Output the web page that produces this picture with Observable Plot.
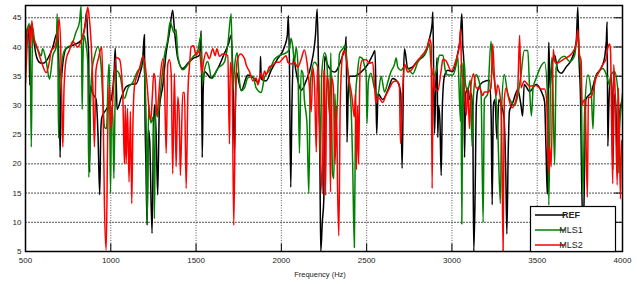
<!DOCTYPE html>
<html>
<head>
<meta charset="utf-8">
<script src="https://cdn.jsdelivr.net/npm/d3@7"></script>
<script src="https://cdn.jsdelivr.net/npm/@observablehq/plot@0.6"></script>
<style>
html,body{margin:0;padding:0;background:#fff;}
#chart svg{display:block;}
</style>
</head>
<body>
<div id="chart"></div>
<script>
const xTicks = [500,1000,1500,2000,2500,3000,3500,4000];
const yTicks = [5,10,15,20,25,30,35,40,45];
const seriesNames = ["REF","MLS1","MLS2"];
const seriesColors = ["#000000","#008000","#ff0000"];

const refData = [[500,36],[505,42.5],[515,43],[521,41],[525,33.5],[530,43],[537,44],[545,42],[563,38.5],[585,37.3],[601,37.2],[631,38],[660,40],[680,42.1],[690,42.5],[697,35],[703,21.1],[708,33],[713,35.4],[738,39.7],[787,40.4],[826,41.1],[850,44],[858,46],[864,42],[870,39],[876,18.5],[882,33.4],[895,32],[914,31],[925,25],[935,14.7],[942,26],[948,28],[973,29.3],[1002,31],[1020,36],[1026,39.8],[1032,34],[1037,29.3],[1061,31.3],[1090,33.2],[1120,33.6],[1149,33.7],[1168,35.2],[1186,37.5],[1197,42.1],[1201,27.5],[1206,20],[1213,9.5],[1220,26],[1228,24],[1242,8.1],[1250,25],[1256,30.1],[1266,25],[1275,14.7],[1285,29.5],[1305,33.4],[1325,39.1],[1344,42.5],[1363,46.3],[1373,43],[1393,38],[1422,36.3],[1451,37.2],[1481,38],[1520,38.6],[1530,42.8],[1536,21.1],[1542,33],[1549,35.8],[1588,34.7],[1627,36.3],[1666,38.9],[1690,40.5],[1706,42],[1715,36],[1725,21.8],[1735,35.8],[1765,32.6],[1803,35.2],[1833,34.8],[1862,34],[1875,35],[1878,38.4],[1882,34.5],[1911,34.2],[1940,36],[1979,38],[2018,40],[2035,42],[2041,45.4],[2047,38],[2055,16],[2062,30],[2071,38.4],[2085,36],[2116,32.6],[2145,34.2],[2175,37],[2200,42],[2210,46.5],[2218,36],[2226,20],[2231,5],[2240,10],[2249,14],[2253,38.4],[2270,37],[2311,35.7],[2360,38.6],[2375,40],[2380,41.8],[2385,23.7],[2392,32],[2400,35],[2428,35],[2467,35.7],[2506,37],[2535,38.6],[2549,39.4],[2554,33],[2559,25.2],[2567,32],[2594,31],[2624,32.6],[2653,34.6],[2682,34],[2700,32],[2708,19.2],[2716,35],[2722,39.7],[2741,36.3],[2770,36.6],[2800,37.7],[2839,38.6],[2868,41.4],[2884,44],[2888,46],[2893,35],[2898,25.2],[2905,33],[2913,38.2],[2917,24.5],[2922,30],[2930,27],[2937,18],[2944,30],[2956,35],[2976,36],[3005,35.8],[3034,38.9],[3050,42],[3058,45.7],[3064,40],[3069,37.9],[3074,21.1],[3080,32],[3095,33],[3103,31],[3115,32],[3122,28],[3128,5],[3136,15],[3143,30],[3151,32.6],[3181,34],[3220,34.3],[3230,28],[3236,13],[3243,30],[3252,31],[3264,24.2],[3275,31],[3290,30],[3305,28],[3316,18],[3322,8],[3330,22],[3337,29],[3357,30.5],[3386,32.7],[3405,30],[3414,28.2],[3424,33.6],[3455,32.4],[3494,33.6],[3524,32.4],[3543,30.7],[3552,22],[3559,14.9],[3565,35],[3568,40.8],[3575,33],[3583,36],[3602,38.6],[3621,36],[3641,35.5],[3670,36.6],[3700,37.8],[3729,41],[3738,46.8],[3745,38],[3754,30.9],[3760,18],[3770,8],[3778,20],[3785,31],[3817,32.3],[3846,35.2],[3875,36.4],[3895,38.2],[3905,41],[3910,44.3],[3914,23],[3920,30],[3930,35],[3938,33],[3943,19],[3950,30],[3958,32],[3965,25],[3969,19.2],[3978,27],[3990,30],[4000,31]];

const mls1Data = [[500,40],[504,42.5],[515,43.5],[523,44],[528,38],[534,22.9],[539,38],[543,43.2],[553,40.9],[572,39.6],[592,38.5],[601,39.7],[621,37.6],[641,34.5],[660,38.5],[680,40],[686,45.7],[690,38],[694,24.4],[700,34],[712,37],[724,39.1],[745,40],[768,40.3],[797,42.6],[817,44.4],[826,47],[829,40],[832,29.3],[837,38],[842,42],[852,41],[865,37.4],[871,17.7],[880,30],[890,36],[904,38.3],[924,40.1],[943,36.8],[955,30],[963,26.3],[975,26],[988,37],[992,37],[998,15],[1005,30],[1012,28],[1018,17.5],[1025,30],[1035,35.9],[1055,35],[1080,31.2],[1100,32.9],[1130,34],[1158,35.9],[1175,36.5],[1188,38.5],[1197,36],[1207,27.6],[1213,9.7],[1222,30],[1235,27],[1248,28],[1256,10.6],[1262,30],[1275,28],[1290,32],[1314,38.4],[1334,41.3],[1348,44.3],[1358,43.5],[1370,42.5],[1383,43],[1393,38.4],[1422,36.1],[1451,37],[1481,38.3],[1510,39.4],[1530,42],[1537,33.8],[1549,36],[1568,37.5],[1592,34.6],[1627,36.3],[1666,37.4],[1686,40.4],[1706,45.7],[1715,32.5],[1727,37],[1741,39],[1752,35],[1764,32.5],[1784,33],[1803,34.7],[1833,35],[1852,33],[1882,32.2],[1901,34.8],[1930,36],[1960,37.9],[1999,38.7],[2028,39],[2047,39.6],[2057,41.5],[2067,40],[2077,37.4],[2087,39.9],[2097,37],[2106,21.8],[2116,36],[2126,35.5],[2135,31],[2150,27],[2161,14.9],[2170,34],[2194,37.4],[2213,36.6],[2224,28],[2229,19.4],[2236,35],[2253,39],[2265,38],[2282,28.3],[2290,39],[2300,18.3],[2308,17.5],[2314,32],[2320,26],[2341,38.9],[2360,39.7],[2374,40.3],[2385,37.5],[2399,33],[2409,29.6],[2418,20],[2428,5.7],[2436,32],[2446,35.5],[2458,38.3],[2477,38],[2487,36.8],[2497,35.5],[2502,26.9],[2510,34],[2525,35.5],[2545,33],[2565,31.7],[2585,35],[2605,32.3],[2624,34],[2643,35.8],[2663,37],[2673,38.1],[2683,36.5],[2702,36],[2722,36.7],[2751,36],[2770,35.4],[2800,37.4],[2849,39.2],[2868,40.6],[2878,36.8],[2893,35],[2908,35.8],[2927,38.6],[2947,38.6],[2961,36],[2976,35.2],[3005,35.2],[3025,37],[3034,38.6],[3050,27.3],[3053,37],[3058,9.7],[3065,37],[3072,37.5],[3080,33.5],[3092,32.5],[3108,34.3],[3118,23],[3127,32],[3142,35.3],[3152,34.8],[3171,32],[3183,10],[3190,31],[3210,32],[3229,41],[3239,36.3],[3249,34.3],[3268,26.3],[3284,13.2],[3292,30],[3307,35.3],[3327,32],[3347,30.6],[3366,30],[3386,31.7],[3405,35.3],[3424,39.4],[3445,39.4],[3455,33],[3466,28.2],[3476,33],[3496,34.8],[3515,36.3],[3543,37.4],[3562,30.5],[3568,12.9],[3577,32],[3587,38.3],[3602,19.8],[3611,36.5],[3621,37.4],[3660,38.4],[3690,37.5],[3719,38.5],[3738,42.5],[3748,38.5],[3758,33],[3768,14.9],[3778,29],[3797,35.2],[3817,32],[3827,26],[3837,34.5],[3856,35.5],[3885,36.3],[3905,35.3],[3924,33.5],[3934,35.3],[3953,35.8],[3973,32.5],[3978,18.4],[3983,25.9],[3995,30.5],[4000,32]];

const mls2Data = [[500,33.7],[505,37],[514,42.5],[523,43.5],[530,40],[537,44.5],[545,42],[563,40.4],[582,38.5],[601,36.8],[621,35.6],[641,37.6],[651,39.4],[670,40],[690,42.3],[696,44.9],[706,40.5],[713,30],[719,22.9],[726,33],[738,37.8],[758,39.5],[777,41],[790,40.5],[806,40],[826,41],[846,43],[856,45],[865,46.8],[872,45.5],[885,40.5],[895,33],[904,22.9],[913,36],[928,38.1],[947,40],[953,33.5],[963,12.6],[973,5.2],[982,25],[992,33.6],[1002,26],[1012,31],[1032,38.2],[1051,37.9],[1070,32],[1080,20],[1085,30],[1090,20],[1098,29.5],[1107,16.9],[1115,29],[1123,13.2],[1130,27],[1139,33.3],[1153,35],[1168,36.3],[1188,38.3],[1197,37.7],[1207,35.5],[1217,32],[1227,28.2],[1235,27.5],[1243,31.3],[1252,35.5],[1260,34.5],[1270,28.2],[1280,31.3],[1290,35],[1305,38],[1315,33.5],[1325,21.8],[1334,37],[1344,37.8],[1354,35.5],[1363,18.3],[1373,35.5],[1383,19.5],[1393,31.5],[1402,27.5],[1408,18],[1422,32.2],[1432,32.2],[1442,15.8],[1452,32],[1461,36.6],[1471,40],[1485,40.2],[1500,38.6],[1520,39.4],[1534,35.5],[1544,37.5],[1559,39.1],[1578,38],[1598,39.7],[1612,38.5],[1622,39.7],[1637,38.4],[1656,38.8],[1666,38.8],[1686,38.5],[1696,23.4],[1701,37.4],[1711,34.8],[1721,9.5],[1731,31],[1741,37.6],[1760,38.8],[1784,38],[1794,36.9],[1813,35.8],[1833,34.2],[1852,34.7],[1862,33.5],[1882,35.6],[1891,34.5],[1901,35.9],[1911,35.3],[1930,36.6],[1950,36.9],[1970,37.4],[1989,37.4],[2008,38],[2028,38.5],[2038,37.4],[2057,37.1],[2077,37.4],[2096,36.5],[2116,37.9],[2135,39.5],[2150,37.4],[2165,33],[2175,28.9],[2185,36.5],[2195,33],[2205,22],[2212,37],[2223,28],[2240,14.9],[2248,36],[2253,35.9],[2259,14.6],[2266,35],[2275,34],[2283,30],[2288,15.2],[2295,34.8],[2305,33],[2315,20],[2323,30],[2330,15],[2337,7.7],[2345,30],[2360,38.9],[2370,39.4],[2380,38],[2394,34.8],[2413,31.7],[2428,28],[2434,32],[2440,19],[2447,30],[2453,20],[2459,33],[2462,36.3],[2477,37.8],[2497,37.8],[2516,37.2],[2535,37.4],[2545,34],[2554,30.3],[2565,31.5],[2580,31],[2594,30.5],[2614,31.8],[2633,32.9],[2653,34],[2673,34.2],[2692,33.5],[2698,23.5],[2702,24.9],[2712,33],[2722,37.1],[2741,35.7],[2760,36],[2790,37.3],[2819,38.4],[2849,39.6],[2858,40.3],[2868,41.4],[2878,40.4],[2884,15.8],[2890,36.5],[2898,33],[2917,32.5],[2937,36],[2947,37.9],[2966,37.6],[2996,35.9],[3025,37.9],[3044,40.3],[3050,43.1],[3058,35],[3064,35],[3084,28.3],[3093,33],[3103,26],[3112,33.5],[3127,35.4],[3142,33],[3161,33],[3181,31.7],[3190,32.3],[3210,32.3],[3229,33],[3239,40.5],[3249,35],[3259,31.7],[3268,33.5],[3284,31.1],[3292,25],[3300,5],[3307,31],[3317,33],[3337,30.7],[3352,29.6],[3371,30.5],[3386,33],[3397,42],[3405,33],[3424,34.2],[3455,33.3],[3494,33.4],[3524,32.8],[3543,32.8],[3555,31],[3566,18.3],[3572,23],[3582,19.5],[3594,39.6],[3602,37.6],[3611,37.2],[3660,38],[3700,38.8],[3729,40.5],[3738,43],[3745,39],[3758,37.5],[3763,30],[3768,30.5],[3780,31],[3794,14.3],[3800,31.3],[3817,31.5],[3846,34.8],[3865,35.9],[3885,37],[3905,38.1],[3915,40],[3925,40.5],[3930,39.3],[3937,25],[3943,16.6],[3948,37],[3956,33],[3969,16.4],[3976,33],[3988,14],[3994,24],[4000,22]];

const allSeries = [refData, mls1Data, mls2Data];

const W = 637, H = 284;
const fontFam = "'Liberation Sans', Arial, sans-serif";

const lineMarks = allSeries.map((data, i) =>
  Plot.line(data, {x: d => d[0], y: d => d[1], stroke: seriesColors[i], strokeWidth: 1.5, curve: "monotone-x", clip: true})
);

const chart = Plot.plot({
  width: W,
  height: H,
  marginLeft: 25,
  marginRight: 15,
  marginTop: 5,
  marginBottom: 33,
  style: {fontFamily: fontFam, fontSize: "8px", color: "#222", background: "#fff"},
  x: {domain: [500, 4000], label: null},
  y: {domain: [5, 47.1], label: null},
  marks: [
    Plot.gridX(xTicks, {stroke: "#333", strokeOpacity: 0.8, strokeDasharray: "1,1.5", strokeWidth: 1}),
    Plot.gridY(yTicks, {stroke: "#333", strokeOpacity: 0.85, strokeDasharray: "2,1", strokeWidth: 1}),
    Plot.axisX(xTicks, {tickSize: 0, tickPadding: 6, tickFormat: d => String(d), label: null}),
    Plot.axisY(yTicks, {tickSize: 0, tickPadding: 4, tickFormat: d => String(d), label: null}),
    Plot.ruleX(xTicks, {y1: 5, y2: 6.3, stroke: "#000", strokeWidth: 1}),
    Plot.ruleX(xTicks, {y1: 47.1, y2: 45.8, stroke: "#000", strokeWidth: 1}),
    Plot.ruleY(yTicks, {x1: 4000, x2: 3955, stroke: "#000", strokeWidth: 1}),
    ...lineMarks,
    Plot.frame({stroke: "#000", strokeWidth: 1.5})
  ]
});

const svg = d3.select(chart);
svg.append("text")
  .attr("x", 320).attr("y", 277)
  .attr("text-anchor", "middle")
  .attr("font-family", fontFam)
  .attr("font-size", "7.5px")
  .attr("fill", "#222")
  .text("Frequency (Hz)");

const lg = svg.append("g");
lg.append("rect")
  .attr("x", 530.5).attr("y", 206.5).attr("width", 85).attr("height", 45)
  .attr("fill", "#fff").attr("stroke", "#000").attr("stroke-width", 1.2);
seriesNames.forEach((name, i) => {
  const yy = 215 + i * 15;
  lg.append("line")
    .attr("x1", 535).attr("x2", 565).attr("y1", yy).attr("y2", yy)
    .attr("stroke", seriesColors[i]).attr("stroke-width", 1.5);
  lg.append("text")
    .attr("x", 571).attr("y", yy + 3.3)
    .attr("font-family", fontFam)
    .attr("font-size", "9px")
    .attr("font-weight", i === 0 ? "bold" : "normal")
    .attr("fill", "#222")
    .text(name);
});

document.getElementById("chart").appendChild(chart);
</script>
</body>
</html>
